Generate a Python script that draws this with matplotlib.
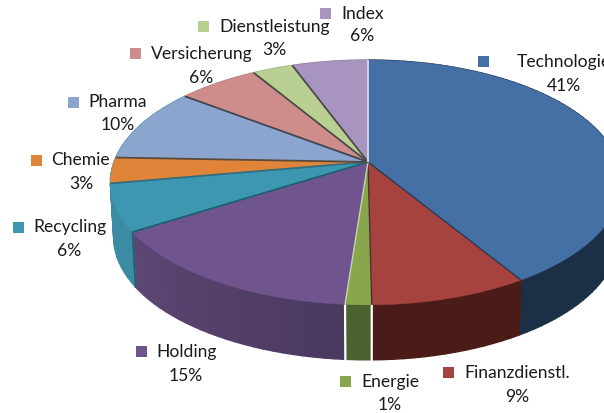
import numpy as np
import matplotlib
matplotlib.use('Agg')
import matplotlib.pyplot as plt
from matplotlib.patches import Polygon, Rectangle
from matplotlib.colors import to_rgb

plt.rcParams['font.family'] = ['Lato', 'DejaVu Sans']

names = ['Technologie', 'Finanzdienstl.', 'Energie', 'Holding', 'Recycling',
         'Chemie', 'Pharma', 'Versicherung', 'Dienstleistung', 'Index']
values = [41.2, 8.6, 1.4, 14.8, 6.2, 3.4, 9.8, 6.0, 3.0, 5.6]
top_colors = ['#4470A6', '#A6433F', '#8AA64D', '#70548E', '#3E97B0',
              '#DF8439', '#8CA5CF', '#CE8D8B', '#BACF92', '#A895BF']
side_left = ['#1B2F47', '#4A1B17', '#4B6130', '#5E4674', '#3B8BA5',
             '#3B8BA5', '#3B8BA5', '#A5706E', '#94A574', '#867699']
side_right = ['#1B2F47', '#4A1B17', '#4B6130', '#4A3A5E', '#3B8BA5',
              '#3B8BA5', '#3B8BA5', '#A5706E', '#94A574', '#867699']
edge_colors = ['#2A3A50', '#4A3030', '#C8D4B0', '#1E5F72', '#2F6F80',
               '#5A4A3A', '#3E4650', '#4A4A4A', '#4A4A4A', '#D8D8E4']

# label layout: key left, key y, text left, text y, percent x, percent y
label_pos = {
    'Technologie': (478, 61, 517, 62, 564, 86),
    'Index': (320, 13, 341, 14, 362, 36),
    'Dienstleistung': (198, 26, 219, 27, 274, 50),
    'Versicherung': (130, 53, 151, 54, 201, 78),
    'Pharma': (68, 102, 88, 102, 118, 125),
    'Chemie': (31, 160, 51, 160, 81, 184),
    'Recycling': (13, 227, 33, 227, 69, 251),
    'Holding': (136, 351, 156, 352, 186, 376),
    'Energie': (340, 381, 361, 382, 390, 405),
    'Finanzdienstl.': (443, 372, 464, 373, 517, 397),
}

# tilted disc as a projective map of a circle, centre lands on the apex
x0, y0 = 368, 162
a_left, a_right, b, k = 254, 250, 119, 0.167
depth = 55


def rim(theta):
    u, v = np.sin(theta), np.cos(theta)
    w = 1 + k * v
    a = np.where(u > 0, a_right, a_left)
    return x0 + a * u / w, y0 - b * v / w


def rim_low(theta):
    x, y = rim(theta)
    return x0 + (x - x0) * 0.987, y + depth


fig = plt.figure(figsize=(6.04, 4.13), dpi=100)
ax = fig.add_axes([0, 0, 1, 1])
ax.set_xlim(0, 604)
ax.set_ylim(413, 0)
ax.axis('off')

cum = np.concatenate([[0], np.cumsum(values)]) / sum(values) * 2 * np.pi

# side wall first, the top then hides the part at the back
for i in range(len(values)):
    th = np.linspace(cum[i], cum[i + 1], max(int((cum[i + 1] - cum[i]) * 30), 3))
    c1, c2 = np.array(to_rgb(side_left[i])), np.array(to_rgb(side_right[i]))
    for j in range(len(th) - 1):
        f = j / max(len(th) - 2, 1)
        col = c1 * f + c2 * (1 - f)
        p = [rim(th[j]), rim(th[j + 1]), rim_low(th[j + 1]), rim_low(th[j])]
        ax.add_patch(Polygon(p, closed=True, fc=col, ec=col, lw=1.0, zorder=1))

# white gaps round the pulled out Energie slice
i = names.index('Energie')
for t in (cum[i], cum[i + 1]):
    xs = [rim(t)[0], rim_low(t)[0]]
    ys = [rim(t)[1], rim_low(t)[1]]
    ax.plot(xs, ys, color='white', lw=1.6, zorder=2)

i = names.index('Holding')
ax.plot([rim(cum[i + 1])[0], rim_low(cum[i + 1])[0]],
        [rim(cum[i + 1])[1], rim_low(cum[i + 1])[1]],
        color=edge_colors[i], lw=1.2, zorder=2)

for i in range(len(values)):
    th = np.linspace(cum[i], cum[i + 1], 80)
    xs, ys = rim(th)
    p = [(x0, y0)] + list(zip(xs, ys))
    ax.add_patch(Polygon(p, closed=True, fc=top_colors[i], ec=top_colors[i],
                         lw=0.3, zorder=3))

for i in range(len(values)):
    x, y = rim(cum[i + 1])
    lw = 1.0 if names[i] in ('Energie', 'Technologie', 'Finanzdienstl.') else 1.3
    ax.plot([x0, x], [y0, y], color=edge_colors[i], lw=lw, zorder=4,
            solid_capstyle='butt')

for n, v, col in zip(names, values, top_colors):
    kx, ky, tx, ty, px, py = label_pos[n]
    ax.add_patch(Rectangle((kx, ky - 5.5), 11, 11, fc=col, ec='none', zorder=5))
    ax.text(tx, ty, n, fontsize=12.6, color='#1a1a1a', ha='left', va='center', zorder=6)
    ax.text(px, py, '{}%'.format(round(v)), fontsize=12.6, color='#1a1a1a',
            ha='center', va='center', zorder=6)

fig.savefig('out.png', dpi=100)
